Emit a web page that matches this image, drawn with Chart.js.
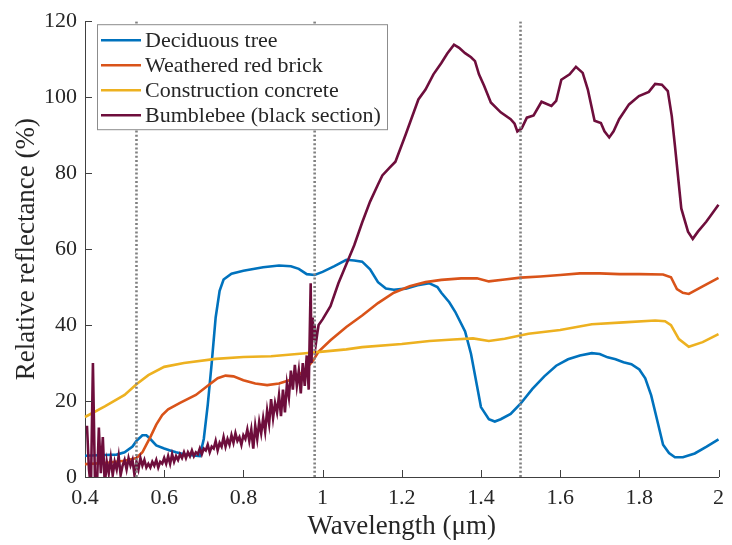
<!DOCTYPE html>
<html>
<head>
<meta charset="utf-8">
<script src="https://cdn.jsdelivr.net/npm/chart.js@4.4.1/dist/chart.umd.min.js"></script>
<style>
  html, body { margin: 0; padding: 0; background: #ffffff; }
  #wrap { width: 732px; height: 545px; position: relative; }
</style>
</head>
<body>
<div id="wrap"><canvas id="c" width="732" height="545"></canvas></div>
<script>
// ---------- data ----------
const seriesNames = ['Deciduous tree', 'Weathered red brick', 'Construction concrete', 'Bumblebee (black section)'];
const seriesColors = ['#0072BD', '#D95319', '#EDB120', '#6E0E3C'];

const xTicks = [0.4, 0.6, 0.8, 1, 1.2, 1.4, 1.6, 1.8, 2];
const yTicks = [0, 20, 40, 60, 80, 100, 120];
const markerLines = [0.53, 0.98, 1.50];

const treeX = [0.40,0.45,0.48,0.50,0.52,0.53,0.545,0.555,0.565,0.58,0.60,0.615,0.63,0.65,0.68,0.69,0.70,0.71,0.72,0.73,0.74,0.75,0.77,0.80,0.85,0.89,0.92,0.94,0.96,0.98,1.00,1.03,1.06,1.08,1.10,1.12,1.14,1.16,1.18,1.21,1.24,1.27,1.29,1.30,1.32,1.335,1.36,1.375,1.39,1.40,1.42,1.435,1.45,1.475,1.50,1.53,1.56,1.59,1.62,1.65,1.68,1.70,1.72,1.74,1.76,1.78,1.80,1.815,1.83,1.845,1.86,1.875,1.89,1.91,1.94,1.97,2.00];
const treeY = [5.6,5.8,5.9,6.5,8.0,9.5,11.0,11.0,10.0,8.3,7.5,7.0,6.5,6.0,5.6,5.5,10,19,30,42,49,52,53.5,54.3,55.2,55.7,55.5,54.8,53.4,53.2,54.0,55.5,57.2,57.0,56.7,54.7,51.3,49.6,49.3,49.6,50.5,51.0,50.0,48.5,46.0,43.5,38.3,32.4,24.0,18.4,15.2,14.6,15.2,16.6,19.3,23.2,26.5,29.3,31.0,32.0,32.6,32.4,31.5,31.0,30.2,29.7,28.3,26.0,21.5,15.0,8.5,6.3,5.2,5.2,6.2,8.0,9.9];

const brickX = [0.40,0.45,0.50,0.53,0.545,0.555,0.565,0.58,0.595,0.61,0.64,0.68,0.71,0.735,0.755,0.775,0.80,0.83,0.86,0.89,0.92,0.95,0.975,0.99,1.02,1.06,1.10,1.14,1.18,1.22,1.26,1.30,1.35,1.39,1.42,1.46,1.50,1.55,1.60,1.65,1.70,1.75,1.80,1.86,1.88,1.895,1.91,1.925,1.96,2.00];
const brickY = [3.4,3.7,4.3,5.0,6.5,8.5,10.5,13.8,16.3,17.8,19.5,21.6,24.0,26.0,26.7,26.5,25.5,24.6,24.2,24.6,25.6,27.6,30.5,33.0,36.0,39.5,42.5,45.8,48.5,50.2,51.3,51.9,52.3,52.3,51.5,52.0,52.5,52.8,53.2,53.6,53.6,53.4,53.4,53.3,52.6,49.5,48.5,48.2,50.2,52.4];

const concreteX = [0.40,0.45,0.50,0.53,0.56,0.60,0.65,0.73,0.80,0.87,0.95,1.00,1.06,1.10,1.20,1.27,1.33,1.38,1.42,1.46,1.52,1.60,1.68,1.76,1.84,1.865,1.88,1.90,1.925,1.96,2.00];
const concreteY = [15.8,18.6,21.6,24.4,26.8,29.0,30.0,31.1,31.6,31.8,32.5,33.0,33.6,34.2,35.0,35.8,36.2,36.5,35.8,36.4,37.7,38.7,40.2,40.7,41.2,41.0,40.0,36.3,34.3,35.5,37.6];

const beeX = [0.405,0.410,0.415,0.420,0.425,0.430,0.435,0.440,0.445,0.450,0.455,0.460,0.465,0.470,0.475,0.480,0.485,0.490,0.495,0.500,
  0.505,0.510,0.515,0.520,0.525,0.530,0.535,0.540,0.545,0.550,0.555,0.560,0.565,0.570,0.575,0.580,0.585,0.590,0.595,0.600,
  0.605,0.610,0.615,0.620,0.625,0.630,0.635,0.640,0.645,0.650,0.655,0.660,0.665,0.670,0.675,0.680,0.685,0.690,0.695,0.700,
  0.705,0.710,0.715,0.720,0.725,0.730,0.735,0.740,0.745,0.750,0.755,0.760,0.765,0.770,0.775,0.780,0.785,0.790,0.795,0.800,
  0.805,0.810,0.815,0.820,0.825,0.830,0.835,0.840,0.845,0.850,0.855,0.860,0.865,0.870,0.875,0.880,0.885,0.890,0.895,0.900,
  0.905,0.910,0.915,0.920,0.925,0.930,0.935,0.940,0.945,0.950,0.955,0.960,0.965,0.970,0.972,0.975,0.978,0.980,0.983,0.987,
  0.990,1.00,1.02,1.04,1.06,1.08,1.10,1.12,1.14,1.151,1.17,1.184,1.209,1.242,1.26,1.28,1.30,1.315,1.332,1.345,
  1.36,1.375,1.385,1.395,1.408,1.425,1.45,1.475,1.485,1.492,1.503,1.516,1.533,1.553,1.578,1.59,1.603,1.624,1.64,1.657,
  1.67,1.687,1.703,1.712,1.724,1.735,1.749,1.774,1.799,1.824,1.84,1.857,1.872,1.882,1.89,1.906,1.923,1.935,1.948,1.969,
  1.985,2.00];
const beeY = [13.5,2,-3,30,0,-3,13,1,10.5,-2,4,1,5,0.5,4,2,5.5,0.5,3,4.5,
  2,5,3,4.5,0.5,4,2,5,3,4.5,2.5,3.5,2.5,4,3,4.5,2.5,4,3.5,5,
  3.5,5.5,3.5,6,4,5.5,4.5,6,5,6.5,5,6.5,5.5,7,5.5,6.5,6,7.5,6,7.5,
  7,8.5,6.5,8,7.5,9.5,7,9,8,10.5,8,10,8.5,11,9,11.5,9.5,10.5,8.5,11,
  10,12.5,9.5,12.5,7.5,13.5,10,14.5,11.5,15.5,12,17.5,14,20.5,15.5,19.5,17,21.5,16,23,
  17,24.5,21,28,23,29.5,24,28,22,30,24,32,23,51,30,42,36,40,35,38,
  40,41.5,45,51,56,61,67,72.5,77,79.4,81.5,83,89.9,99.4,102,106,109,111.5,113.8,113,
  111.6,110.5,109.5,106,103,98.6,96,94.2,93,91,91.8,94.6,95.2,98.8,97.7,99,104.6,106,108,106.4,
  102,93.8,93.2,91,89.4,91,94.2,98.1,100.3,101.4,103.5,103.3,101.6,95,87.2,70.7,64.6,62.7,64.6,67.2,
  69.5,71.7];

// ---------- build datasets ----------
const zip = (xs, ys) => xs.map((x, i) => ({ x: x, y: ys[i] }));
const seriesData = [zip(treeX, treeY), zip(brickX, brickY), zip(concreteX, concreteY), zip(beeX, beeY)];

const datasets = [];
markerLines.forEach(v => {
  datasets.push({
    label: '_marker',
    data: [{ x: v, y: yTicks[0] }, { x: v, y: yTicks[yTicks.length - 1] }],
    borderColor: '#808080',
    borderWidth: 2.6,
    borderDash: [2, 2.2],
    pointRadius: 0,
    order: 0,
    clip: 0
  });
});
seriesNames.forEach((name, i) => {
  datasets.push({
    label: name,
    data: seriesData[i],
    borderColor: seriesColors[i],
    backgroundColor: seriesColors[i],
    borderWidth: 2.6,
    pointRadius: 0,
    tension: 0,
    order: 4 - i,
    clip: { left: 2, right: 2, top: 2, bottom: 0 }
  });
});

const SERIF = '"Liberation Serif", "DejaVu Serif", serif';
const TXT = '#262626';

// inward tick marks (MATLAB style)
const inwardTicks = {
  id: 'inwardTicks',
  afterDatasetsDraw(chart) {
    const { ctx, chartArea: a, scales: { x, y } } = chart;
    ctx.save();
    ctx.strokeStyle = '#404040';
    ctx.lineWidth = 1;
    ctx.beginPath();
    xTicks.forEach(v => {
      const px = Math.round(x.getPixelForValue(v)) + 0.5;
      ctx.moveTo(px, a.bottom);
      ctx.lineTo(px, a.bottom - 7);
    });
    yTicks.forEach(v => {
      const py = Math.round(y.getPixelForValue(v)) + 0.5;
      ctx.moveTo(a.left, py);
      ctx.lineTo(a.left + 7, py);
    });
    ctx.stroke();
    ctx.restore();
  }
};

// legend drawn inside the plot (upper-left)
const innerLegend = {
  id: 'innerLegend',
  afterDraw(chart) {
    const { ctx, chartArea: a } = chart;
    const bx = a.left + 12, by = a.top + 3, bw = 290, bh = 105;
    const rowH = 25, row0 = by + 16;
    ctx.save();
    ctx.fillStyle = '#ffffff';
    ctx.fillRect(bx, by, bw, bh);
    ctx.strokeStyle = '#8c8c8c';
    ctx.lineWidth = 1;
    ctx.strokeRect(bx + 0.5, by + 0.5, bw, bh);
    ctx.font = '22px ' + SERIF;
    ctx.textBaseline = 'middle';
    ctx.textAlign = 'left';
    seriesNames.forEach((name, i) => {
      const yy = row0 + i * rowH;
      ctx.strokeStyle = seriesColors[i];
      ctx.lineWidth = 2.6;
      ctx.beginPath();
      ctx.moveTo(bx + 4, yy);
      ctx.lineTo(bx + 44, yy);
      ctx.stroke();
      ctx.fillStyle = TXT;
      ctx.fillText(name, bx + 48, yy + 1);
    });
    ctx.restore();
  }
};

new Chart(document.getElementById('c'), {
  type: 'line',
  data: { datasets: datasets },
  options: {
    responsive: false,
    animation: false,
    events: [],
    layout: { padding: { top: 18, right: 4, left: 0, bottom: 0 } },
    plugins: { legend: { display: false }, tooltip: { enabled: false } },
    scales: {
      x: {
        type: 'linear',
        min: xTicks[0],
        max: xTicks[xTicks.length - 1],
        afterBuildTicks: s => { s.ticks = xTicks.map(v => ({ value: v })); },
        afterFit: s => { s.height = 68; },
        grid: { display: true, drawOnChartArea: false, drawTicks: false },
        border: { display: true, color: '#404040', width: 1 },
        ticks: {
          autoSkip: false, maxRotation: 0, padding: 8,
          color: TXT, font: { family: SERIF, size: 22 },
          callback: v => String(v)
        },
        title: {
          display: true, text: 'Wavelength (μm)', color: TXT,
          font: { family: SERIF, size: 27 }, padding: { top: 0, bottom: 2 }
        }
      },
      y: {
        type: 'linear',
        min: yTicks[0],
        max: yTicks[yTicks.length - 1],
        afterBuildTicks: s => { s.ticks = yTicks.map(v => ({ value: v })); },
        afterFit: s => { s.width = 85; },
        grid: { display: true, drawOnChartArea: false, drawTicks: false },
        border: { display: true, color: '#404040', width: 1 },
        ticks: {
          autoSkip: false, padding: 8,
          color: TXT, font: { family: SERIF, size: 22 },
          callback: v => String(v)
        },
        title: {
          display: true, text: 'Relative reflectance (%)', color: TXT,
          font: { family: SERIF, size: 27 }, padding: { top: 11, bottom: 0 }
        }
      }
    }
  },
  plugins: [inwardTicks, innerLegend]
});
</script>
</body>
</html>
